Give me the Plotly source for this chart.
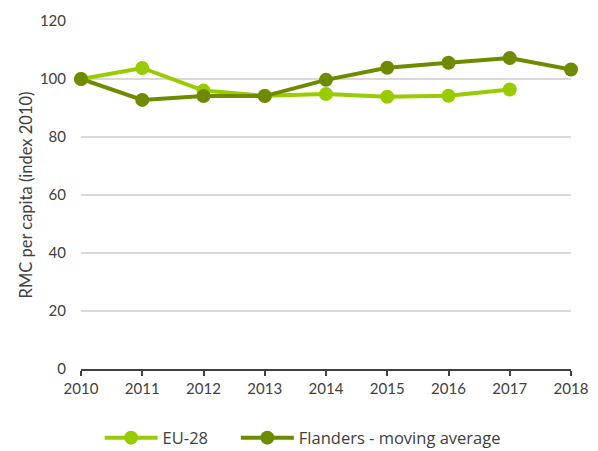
import plotly.graph_objects as go

years = [2010, 2011, 2012, 2013, 2014, 2015, 2016, 2017, 2018]
eu28 = [100, 103.8, 96.0, 94.2, 94.8, 93.9, 94.2, 96.4, None]
flanders = [100, 92.8, 94.1, 94.1, 99.7, 103.9, 105.6, 107.2, 103.3]
y_ticks = [0, 20, 40, 60, 80, 100, 120]

font_family = "Lato, 'Open Sans', sans-serif"

fig = go.Figure()
fig.add_trace(go.Scatter(
    x=years, y=eu28, name="EU-28", mode="lines+markers",
    line=dict(color="#99CC00", width=4),
    marker=dict(color="#99CC00", size=14),
    connectgaps=False, cliponaxis=False, legend="legend",
))
fig.add_trace(go.Scatter(
    x=years, y=flanders, name="Flanders - moving average", mode="lines+markers",
    line=dict(color="#6E8B00", width=4),
    marker=dict(color="#6E8B00", size=14),
    cliponaxis=False, legend="legend2",
))

leg_common = dict(orientation="h", xanchor="left", y=-0.198, yanchor="middle",
                  font=dict(family="'Open Sans', sans-serif", size=16.5, color="#404040"),
                  itemwidth=53, bgcolor="rgba(0,0,0,0)")

fig.update_layout(
    width=590, height=443,
    margin=dict(l=73, r=27, t=13, b=82, autoexpand=False),
    paper_bgcolor="white", plot_bgcolor="white",
    font=dict(family=font_family, size=14, color="#404040"),
    showlegend=True,
    legend=dict(x=0.038, **leg_common),
    legend2=dict(x=0.316, **leg_common),
    xaxis=dict(range=[2010, 2018], tickvals=years, ticktext=[str(y) for y in years],
               showgrid=False, showline=True, linecolor="#404040", linewidth=1.5,
               ticks="outside", ticklen=5, tickcolor="#404040", tickwidth=1.5,
               tickfont=dict(size=15), zeroline=False, automargin=False),
    yaxis=dict(range=[0, 120], tickvals=y_ticks, showgrid=True, gridcolor="#D9D9D9",
               gridwidth=1.5, zeroline=False, showline=False, ticks="",
               ticklabelstandoff=14, tickfont=dict(size=15), automargin=False,
               title=dict(text="RMC per capita (index 2010)", font=dict(size=16.5), standoff=3)),
)

fig.write_html("out.html")
